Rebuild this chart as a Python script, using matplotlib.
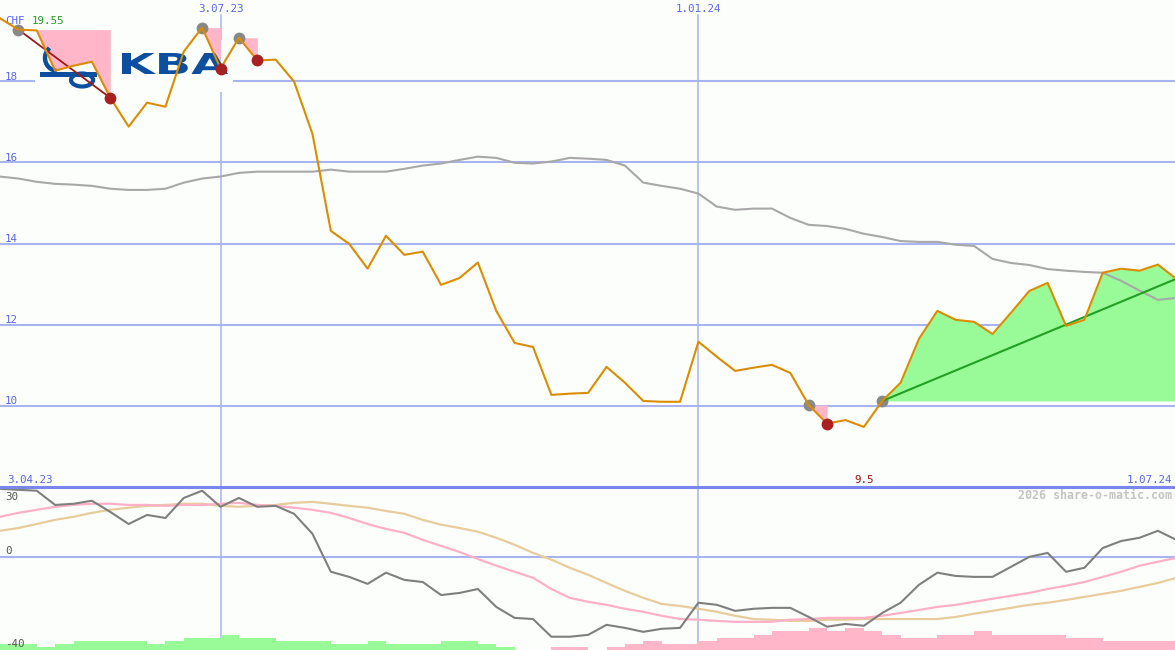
import numpy as np
import matplotlib
matplotlib.use('Agg')
import matplotlib.pyplot as plt
from matplotlib.lines import Line2D
from matplotlib.patches import Rectangle, PathPatch
from matplotlib.textpath import TextPath
from matplotlib.font_manager import FontProperties
from matplotlib.transforms import Affine2D

# weekly closes (CHF), one per week
price = [19.55, 19.27, 19.25, 18.26, 18.38, 18.48, 17.59, 16.88, 17.47, 17.37,
         18.73, 19.32, 18.31, 19.07, 18.51, 18.53, 17.99, 16.70, 14.31, 13.99,
         13.38, 14.19, 13.72, 13.80, 12.98, 13.15, 13.53, 12.34, 11.55, 11.45,
         10.27, 10.30, 10.32, 10.96, 10.57, 10.12, 10.10, 10.10, 11.58, 11.21,
         10.86, 10.94, 11.01, 10.81, 10.02, 9.56, 9.65, 9.48, 10.12, 10.57,
         11.65, 12.34, 12.12, 12.07, 11.77, 12.29, 12.83, 13.03, 11.97, 12.12,
         13.28, 13.38, 13.33, 13.48, 13.13]

# moving average
ma = [15.65, 15.60, 15.52, 15.47, 15.45, 15.42, 15.35, 15.32, 15.32, 15.35,
      15.50, 15.60, 15.65, 15.74, 15.77, 15.77, 15.77, 15.77, 15.82, 15.77,
      15.77, 15.77, 15.84, 15.92, 15.97, 16.06, 16.14, 16.11, 15.99, 15.97,
      16.02, 16.11, 16.09, 16.06, 15.92, 15.50, 15.42, 15.35, 15.23, 14.91,
      14.83, 14.86, 14.86, 14.63, 14.46, 14.43, 14.36, 14.24, 14.16, 14.06,
      14.04, 14.04, 13.97, 13.94, 13.62, 13.52, 13.47, 13.37, 13.33, 13.30,
      13.28, 13.08, 12.84, 12.61, 12.66]

# oscillator panel
osc = [29.2, 28.8, 28.4, 22.3, 22.8, 24.1, 19.3, 14.1, 18.0, 16.7,
       25.3, 28.4, 21.5, 25.3, 21.5, 21.9, 18.5, 9.9, -6.4, -8.6,
       -11.6, -6.8, -9.9, -10.8, -16.4, -15.5, -13.8, -21.5, -26.2, -26.7,
       -34.3, -34.3, -33.5, -29.2, -30.5, -32.2, -30.9, -30.5, -19.7, -20.6,
       -23.2, -22.3, -21.9, -21.9, -25.8, -30.0, -28.8, -29.6, -24.1, -19.7,
       -12.0, -6.8, -8.2, -8.6, -8.6, -4.3, 0.0, 1.7, -6.4, -4.7,
       3.8, 6.8, 8.2, 11.2, 7.3]
osc_fast = [17.2, 18.9, 20.2, 21.5, 22.3, 22.8, 22.8, 22.3, 22.3, 21.9,
            22.3, 22.3, 22.8, 23.2, 22.3, 21.9, 21.1, 20.2, 18.9, 16.7,
            14.1, 12.0, 10.3, 7.3, 4.7, 2.1, -0.9, -3.8, -6.4, -9.0,
            -13.8, -17.6, -19.3, -20.6, -22.3, -23.6, -25.3, -26.7, -27.0, -27.5,
            -27.9, -27.9, -27.9, -27.0, -26.7, -26.2, -26.2, -26.2, -25.3, -24.1,
            -22.8, -21.5, -20.6, -19.3, -18.0, -16.7, -15.5, -13.8, -12.4, -10.8,
            -8.6, -6.4, -3.8, -2.1, -0.4]
osc_slow = [11.2, 12.4, 14.1, 15.9, 17.2, 18.9, 20.2, 21.1, 21.9, 22.3,
            22.8, 22.8, 21.9, 21.5, 21.9, 22.3, 23.2, 23.6, 22.8, 21.9,
            21.1, 19.7, 18.5, 15.9, 13.8, 12.4, 10.8, 8.2, 5.2, 1.7,
            -1.2, -4.7, -7.7, -11.2, -14.6, -17.6, -20.2, -21.1, -22.3, -23.6,
            -25.3, -26.7, -27.0, -27.5, -27.5, -27.0, -27.0, -26.7, -26.7, -26.7,
            -26.7, -26.7, -25.8, -24.4, -23.2, -21.9, -20.6, -19.7, -18.5, -17.2,
            -15.9, -14.6, -12.9, -11.2, -9.0]
hist = [2, 2, 1, 2, 3, 3, 3, 3, 2, 3, 4, 4, 5, 4, 4, 3, 3, 3, 2, 2,
        3, 2, 2, 2, 3, 3, 2, 1, 0, 0, -1, -1, 0, -1, -2, -3, -2, -2, -3, -4,
        -4, -5, -6, -6, -7, -6, -7, -6, -5, -4, -4, -5, -5, -6, -5, -5, -5, -5, -4, -4,
        -3, -3, -3, -3]

drawdowns = [(1, 6), (11, 12), (13, 14), (44, 45)]
trend = (48, 64)
price_grid = [18, 16, 14, 12, 10]
date_idx = [12, 38]
date_labels = ['3.07.23', '1.01.24']
start_label, end_label = '3.04.23', '1.07.24'
low_idx, low_label = 47, '9.5'
currency, high_label = 'CHF', '19.55'
osc_labels = ['30', '0', '-40']

bg = '#fcfefc'
grid_c = '#a8b4f0'
blue_txt = '#5866f0'
mono = 'DejaVu Sans Mono'

x = np.arange(len(price))
price = np.array(price)

fig = plt.figure(figsize=(11.75, 6.5), dpi=100, facecolor=bg)
split = 163 / 650
ax = fig.add_axes([0, split, 1, 1 - split])
axh = fig.add_axes([0, 0, 1, split])
ax2 = fig.add_axes([0, 0, 1, split])
for a in (ax, ax2, axh):
    a.axis('off')
    a.set_xlim(0, 63.93)
ax.set_ylim(8, 20)
ax2.set_ylim(-40, 30)
axh.set_ylim(0, 52.6)

# pixel transform (origin top-left) for the logo
pix = Affine2D().scale(1 / 100, -1 / 100).translate(0, 6.5) + fig.dpi_scale_trans

# grid
for g in price_grid:
    ax.axhline(g, color=grid_c, lw=1.5, zorder=1)
for d in date_idx:
    ax.axvline(d, ymax=1 - 15 / 487, color=grid_c, lw=1.1, zorder=1)
    axh.axvline(d, color=grid_c, lw=1.1, zorder=1)
ax2.axhline(0, color=grid_c, lw=1.5, zorder=1)
fig.add_artist(Line2D([0, 1], [split, split], color='#7886ee', lw=2.2))

# logo
ax.add_patch(Rectangle((35, 40), 198, 52, facecolor=bg, edgecolor='none',
                       transform=pix, zorder=1.5, clip_on=False))
logo_c = '#0b4f9e'
tp = TextPath((0, 0), 'KBA', size=100, prop=FontProperties(family='DejaVu Sans', weight='bold'))
bb = tp.get_extents()
tt = Affine2D().translate(-bb.x0, -bb.y0).scale(106 / bb.width, -21 / bb.height).translate(122, 74)
ax.add_patch(PathPatch(tp, transform=tt + pix, facecolor=logo_c, lw=0, zorder=2.5, clip_on=False))
ax.add_patch(Rectangle((40, 72), 57, 5, facecolor=logo_c, edgecolor='none',
                       transform=pix, zorder=2.5, clip_on=False))
t = np.radians(np.linspace(140, 255, 40))
ax.plot(58 + 13 * np.cos(t), 58 - 13 * np.sin(t), color=logo_c, lw=3.2,
        transform=pix, zorder=2.5, clip_on=False)
t = np.radians(np.linspace(0, 360, 80))
ax.plot(82 + 11 * np.cos(t), 80 - 6.5 * np.sin(t), color=logo_c, lw=3.0,
        transform=pix, zorder=2.5, clip_on=False)

# price panel
ax.plot(x, ma, color='#a8a8a8', lw=1.5, zorder=2)
for p, q in drawdowns:
    ax.fill_between(x[p:q + 1], price[p:q + 1], price[p], color='#ffb6c8', lw=0, zorder=2.2)
s, e = trend
ax.fill_between(x[s:e + 1], price[s:e + 1], price[s], color='#98fb98', lw=0, zorder=1.8)
p, q = drawdowns[0]
ax.plot([x[p], x[q]], [price[p], price[q]], color='#a01818', lw=1.3, zorder=3)
peaks = [d[0] for d in drawdowns] + [s]
troughs = [d[1] for d in drawdowns]
ax.plot(x[peaks], price[peaks], 'o', color='#888888', ms=8.5, mew=0, zorder=3.5)
ax.plot([x[s], x[e]], [price[s], price[e]], color='#22a022', lw=1.5, zorder=3.6)
ax.plot(x, price, color='#dd8c00', lw=1.5, zorder=4)
ax.plot(x[troughs], price[troughs], 'o', color='#a82020', ms=8.5, mew=0, zorder=5)

# labels
yt = ax.get_yaxis_transform()
xt = ax.get_xaxis_transform()
kw = dict(family=mono, fontsize=7.8)
for g in price_grid:
    ax.annotate(str(g), (0, g), xycoords=yt, xytext=(3.6, 1.2), textcoords='offset points',
                va='baseline', ha='left', color=blue_txt, **kw)
ax.text(5 / 1175, 1 - 24 / 487, currency, transform=ax.transAxes, va='baseline', color=blue_txt, **kw)
ax.text(32 / 1175, 1 - 24 / 487, high_label, transform=ax.transAxes, va='baseline', color='#20a020', **kw)
for d, lab in zip(date_idx, date_labels):
    ax.text(d, 1 - 12 / 487, lab, transform=xt, ha='center', va='baseline', color=blue_txt, **kw)
ax.text(7 / 1175, 4 / 487, start_label, transform=ax.transAxes, va='baseline', color=blue_txt, **kw)
ax.text(1172 / 1175, 4 / 487, end_label, transform=ax.transAxes, ha='right', va='baseline', color=blue_txt, **kw)
ax.text(low_idx, 4 / 487, low_label, transform=xt, ha='center', va='baseline', color='#a01010', **kw)

# oscillator panel
ax2.plot(x, osc_slow, color='#e8cc9c', lw=1.6, zorder=2)
ax2.plot(x, osc_fast, color='#ffb0c8', lw=1.6, zorder=2.1)
ax2.plot(x, osc, color='#7f7f7f', lw=1.5, zorder=3)
hist = np.array(hist)
axh.bar(x[:-1], np.abs(hist), width=1, align='edge', lw=0, zorder=2,
        color=['#98fb98' if h > 0 else '#ffb6c8' for h in hist])
a2 = ax2.transAxes
ax2.text(5 / 1175, 1 - 13 / 163, osc_labels[0], transform=a2, va='baseline', color='#555555', **kw)
ax2.text(5 / 1175, 1 - 67 / 163, osc_labels[1], transform=a2, va='baseline', color='#555555', **kw)
ax2.text(5 / 1175, 3 / 163, osc_labels[2], transform=a2, va='baseline', color='#555555', **kw)
ax2.text(1172 / 1175, 1 - 12 / 163, '2026 share-o-matic.com', transform=a2, ha='right',
         va='baseline', color='#c4c4c4', family=mono, fontsize=8.4, fontweight='bold')

fig.savefig('out.png', dpi=100, facecolor=bg)
